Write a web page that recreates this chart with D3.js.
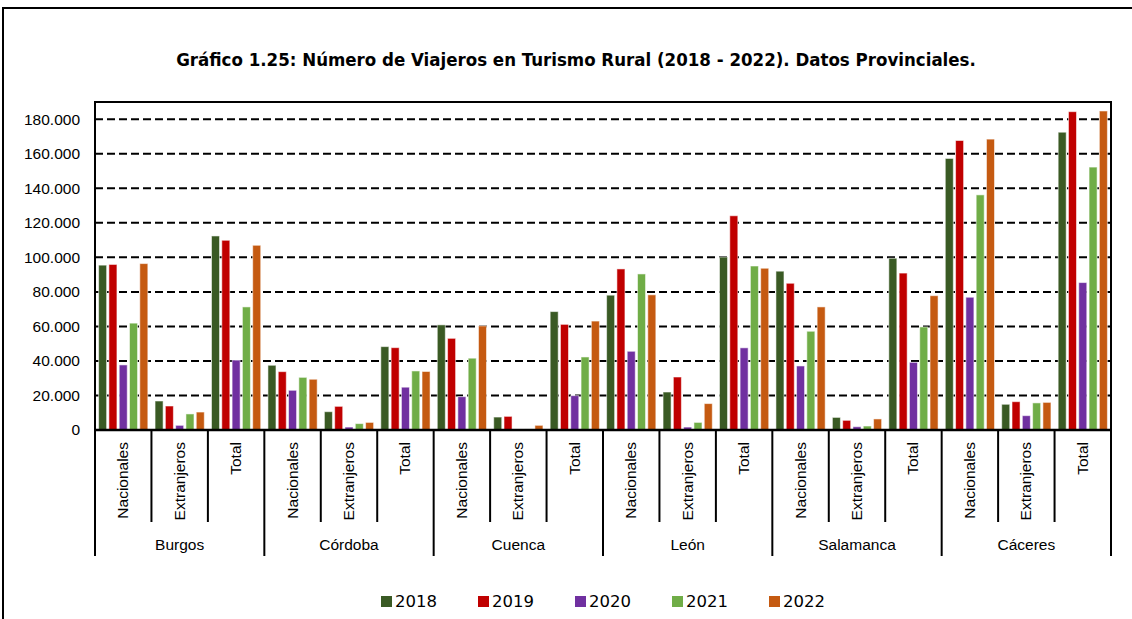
<!DOCTYPE html>
<html>
<head>
<meta charset="utf-8">
<script src="https://cdn.jsdelivr.net/npm/d3@7"></script>
<style>
  body { margin: 0; background: #fff; }
  svg { display: block; }
  .axis-lbl { font-family: "Liberation Sans", Arial, sans-serif; font-size: 15.5px; fill: #000; }
</style>
</head>
<body>
<svg id="chart" width="1132" height="619"></svg>
<script>
// data
const provinces = ["Burgos", "Córdoba", "Cuenca", "León", "Salamanca", "Cáceres"];
const subcats = ["Nacionales", "Extranjeros", "Total"];
const years = ["2018", "2019", "2020", "2021", "2022"];
const yTicks = [0, 20000, 40000, 60000, 80000, 100000, 120000, 140000, 160000, 180000];

// one value per province x subcat, in order
const v2018 = [95500, 16800, 112400, 37500, 10600, 48300, 60900, 7500, 68600, 78100, 22000, 100200, 92000, 7300, 99500, 157300, 14900, 172500];
const v2019 = [95900, 13900, 109900, 33800, 13700, 47700, 53100, 7900, 61200, 93300, 30700, 124100, 85000, 5600, 90900, 167700, 16400, 184400];
const v2020 = [37700, 2700, 40500, 23000, 1700, 24800, 19300, 300, 19900, 45600, 1700, 47600, 37100, 1900, 39200, 76900, 8300, 85400];
const v2021 = [61900, 9300, 71300, 30500, 3700, 34200, 41600, 600, 42300, 90400, 4400, 95000, 57200, 2300, 59700, 136200, 15700, 152300];
const v2022 = [96400, 10400, 107000, 29400, 4400, 33900, 60300, 2700, 63100, 78300, 15300, 93700, 71300, 6400, 77800, 168500, 16000, 184800];

const series = [v2018, v2019, v2020, v2021, v2022];
const colors = ["#3a5a24", "#c00000", "#7030a0", "#70ad47", "#c55a11"];

const svg = d3.select("#chart");

// outer frame
svg.append("path")
  .attr("d", "M3,620 V8 H1135")
  .attr("fill", "none").attr("stroke", "#000").attr("stroke-width", 2);

svg.append("text")
  .attr("x", 576).attr("y", 66)
  .attr("text-anchor", "middle")
  .style("font-family", "'DejaVu Sans Condensed', 'DejaVu Sans', sans-serif")
  .style("font-stretch", "condensed")
  .style("font-weight", "bold")
  .style("font-size", "18.5px")
  .text("Gráfico 1.25: Número de Viajeros en Turismo Rural (2018 - 2022). Datos Provinciales.");

const pLeft = 95, pRight = 1111, pTop = 102, pBottom = 430;

const keys = [];
provinces.forEach(p => subcats.forEach(s => keys.push(p + "|" + s)));

const x0 = d3.scaleBand().domain(keys).range([pLeft, pRight]).padding(0);
const x1 = d3.scaleBand().domain(years).range([0, x0.bandwidth()])
  .paddingInner(0.22).paddingOuter(0.35);
const y = d3.scaleLinear().domain([0, 190000]).range([pBottom, pTop]);

// grid
svg.append("g").selectAll("line")
  .data(yTicks.filter(d => d > 0))
  .join("line")
  .attr("x1", pLeft).attr("x2", pRight)
  .attr("y1", d => y(d)).attr("y2", d => y(d))
  .attr("stroke", "#000").attr("stroke-width", 2)
  .attr("stroke-dasharray", "8,4");

// y labels
svg.append("g").selectAll("text")
  .data(yTicks)
  .join("text")
  .attr("class", "axis-lbl")
  .attr("x", 80).attr("y", d => y(d))
  .attr("dy", "0.35em")
  .attr("text-anchor", "end")
  .text(d => d3.format(",")(d).replace(/,/g, "."));

// bars
const groups = svg.append("g").selectAll("g")
  .data(keys)
  .join("g")
  .attr("transform", d => `translate(${x0(d)},0)`);

groups.selectAll("rect")
  .data((k, i) => years.map((yr, j) => ({ yr, j, v: series[j][i] })))
  .join("rect")
  .attr("x", d => x1(d.yr))
  .attr("width", x1.bandwidth())
  .attr("y", d => y(d.v))
  .attr("height", d => y(0) - y(d.v))
  .attr("fill", d => colors[d.j])
  .attr("stroke", "#fff").attr("stroke-opacity", 0.55).attr("stroke-width", 1);

// plot frame
svg.append("path")
  .attr("d", `M${pLeft},${pBottom} V${pTop} H${pRight} V${pBottom}`)
  .attr("fill", "none").attr("stroke", "#000").attr("stroke-width", 2);
svg.append("line")
  .attr("x1", pLeft - 1).attr("x2", pRight + 1)
  .attr("y1", pBottom).attr("y2", pBottom)
  .attr("stroke", "#000").attr("stroke-width", 2.5);

// category separators
svg.append("g").selectAll("line")
  .data(keys.concat(["end"]))
  .join("line")
  .attr("x1", (d, i) => i < keys.length ? x0(d) : pRight)
  .attr("x2", (d, i) => i < keys.length ? x0(d) : pRight)
  .attr("y1", pBottom)
  .attr("y2", (d, i) => i % 3 === 0 ? 556 : 522)
  .attr("stroke", "#000").attr("stroke-width", 2);

// sub labels, rotated
svg.append("g").selectAll("text")
  .data(keys)
  .join("text")
  .attr("class", "axis-lbl")
  .attr("transform", d => `translate(${x0(d) + x0.bandwidth() / 2 + 5},442) rotate(-90)`)
  .attr("text-anchor", "end")
  .text(d => d.split("|")[1]);

// province labels
svg.append("g").selectAll("text")
  .data(provinces)
  .join("text")
  .attr("class", "axis-lbl")
  .attr("x", p => x0(p + "|Extranjeros") + x0.bandwidth() / 2)
  .attr("y", 550)
  .attr("text-anchor", "middle")
  .text(p => p);

// legend
const leg = svg.append("g").selectAll("g")
  .data(years)
  .join("g")
  .attr("transform", (d, i) => `translate(${381 + i * 97},596)`);
leg.append("rect")
  .attr("width", 11).attr("height", 11)
  .attr("fill", (d, i) => colors[i]);
leg.append("text")
  .attr("x", 14).attr("y", 11)
  .style("font-family", "'DejaVu Sans', sans-serif")
  .style("font-size", "16.5px")
  .text(d => d);
</script>
</body>
</html>
